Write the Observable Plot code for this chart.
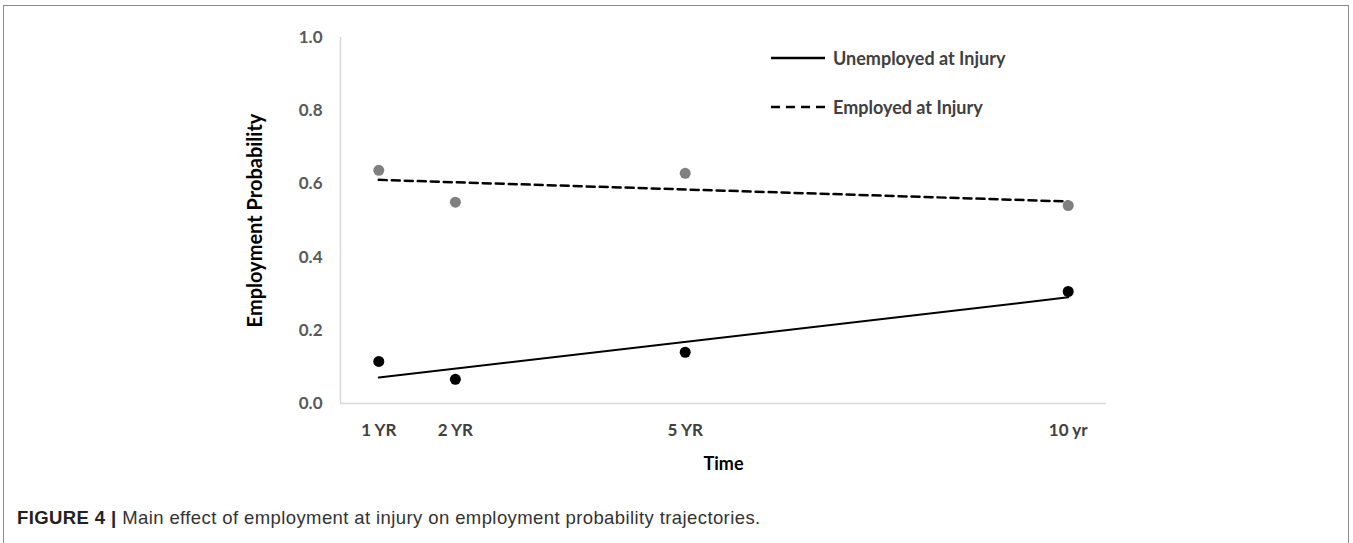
<!DOCTYPE html>
<html>
<head>
<meta charset="utf-8">
<script src="https://cdn.jsdelivr.net/npm/d3@7"></script>
<script src="https://cdn.jsdelivr.net/npm/@observablehq/plot@0.6"></script>
<style>
  html, body { margin: 0; padding: 0; background: #fff; }
  body { width: 1353px; height: 543px; position: relative; overflow: hidden; }
  #frame { position: absolute; left: 3px; top: 5px; width: 1346px; height: 560px;
           border: 1.5px solid #8a8a8a; box-sizing: border-box; }
  #chart { position: absolute; left: 0; top: 0; }
  #legend { position: absolute; left: 771px; top: 44px; font-family: Lato, "Open Sans", sans-serif;
            font-weight: bold; font-size: 18px; color: #404040; }
  .li { display: flex; align-items: center; height: 28px; margin-bottom: 21px; }
  .li svg { margin-right: 8px; }
  #caption { position: absolute; left: 17px; top: 507px; font-family: "Liberation Sans", Arial, sans-serif;
             font-size: 18.5px; letter-spacing: 0.4px; color: #333; white-space: nowrap; }
  #caption b { color: #222; }
</style>
</head>
<body>
<div id="frame"></div>
<div id="chart"></div>
<div id="legend"></div>
<div id="caption"><b>FIGURE 4 |</b> Main effect of employment at injury on employment probability trajectories.</div>
<script>
// ---- data ----
const years = [1, 2, 5, 10];
const yearLabels = ["1 YR", "2 YR", "5 YR", "10 yr"];
const employedObserved = [0.637, 0.550, 0.629, 0.541];
const unemployedObserved = [0.115, 0.066, 0.140, 0.306];
const trendYears = [1, 10];
const employedTrend = [0.611, 0.552];
const unemployedTrend = [0.071, 0.290];
const yTicks = [0, 0.2, 0.4, 0.6, 0.8, 1.0];
const seriesNames = ["Unemployed at Injury", "Employed at Injury"];

const empPts = years.map((x, i) => ({x, y: employedObserved[i]}));
const unPts = years.map((x, i) => ({x, y: unemployedObserved[i]}));
const empLine = trendYears.map((x, i) => ({x, y: employedTrend[i]}));
const unLine = trendYears.map((x, i) => ({x, y: unemployedTrend[i]}));

const font = 'Lato, "Open Sans", sans-serif';

const chart = Plot.plot({
  width: 1353,
  height: 490,
  marginLeft: 340,
  marginRight: 247,
  marginTop: 37,
  marginBottom: 87,
  style: {fontFamily: font, background: "transparent"},
  x: {type: "linear", domain: [0.5, 10.5]},
  y: {domain: [0, 1]},
  marks: [
    Plot.ruleX([0.5], {stroke: "#d9d9d9", strokeWidth: 1.5}),
    Plot.ruleY([0], {stroke: "#d9d9d9", strokeWidth: 1.5}),
    Plot.axisY({ticks: yTicks, tickFormat: d3.format(".1f"), tickSize: 0, tickPadding: 18,
                label: null, fontSize: 17, fontWeight: "bold", fill: "#595959"}),
    Plot.axisX({ticks: years, tickFormat: d => yearLabels[years.indexOf(d)], tickSize: 0, tickPadding: 20,
                label: null, fontSize: 17, fontWeight: "bold", fill: "#404040"}),
    Plot.text(["Employment Probability"], {frameAnchor: "left", textAnchor: "middle", rotate: -90, dx: -85,
                fontSize: 20, fontWeight: "bold", fill: "#000", text: d => d}),
    Plot.text(["Time"], {frameAnchor: "bottom", dy: 66, fontSize: 18, fontWeight: "bold", fill: "#000", text: d => d}),
    Plot.line(empLine, {x: "x", y: "y", stroke: "#000", strokeWidth: 2.5, strokeDasharray: "8,5"}),
    Plot.line(unLine, {x: "x", y: "y", stroke: "#000", strokeWidth: 2}),
    Plot.dot(empPts, {x: "x", y: "y", r: 5.5, fill: "#808080", stroke: "none"}),
    Plot.dot(unPts, {x: "x", y: "y", r: 5.5, fill: "#000", stroke: "none"})
  ]
});
document.getElementById("chart").appendChild(chart);

// legend
const legend = document.getElementById("legend");
const dashes = [null, "9,6"];
seriesNames.forEach((name, i) => {
  const row = document.createElement("div");
  row.className = "li";
  row.innerHTML = `<svg width="54" height="6"><line x1="0" y1="3" x2="54" y2="3" stroke="#000" stroke-width="2.4" ${dashes[i] ? `stroke-dasharray="${dashes[i]}"` : ""}/></svg><span>${name}</span>`;
  legend.appendChild(row);
});
</script>
</body>
</html>
